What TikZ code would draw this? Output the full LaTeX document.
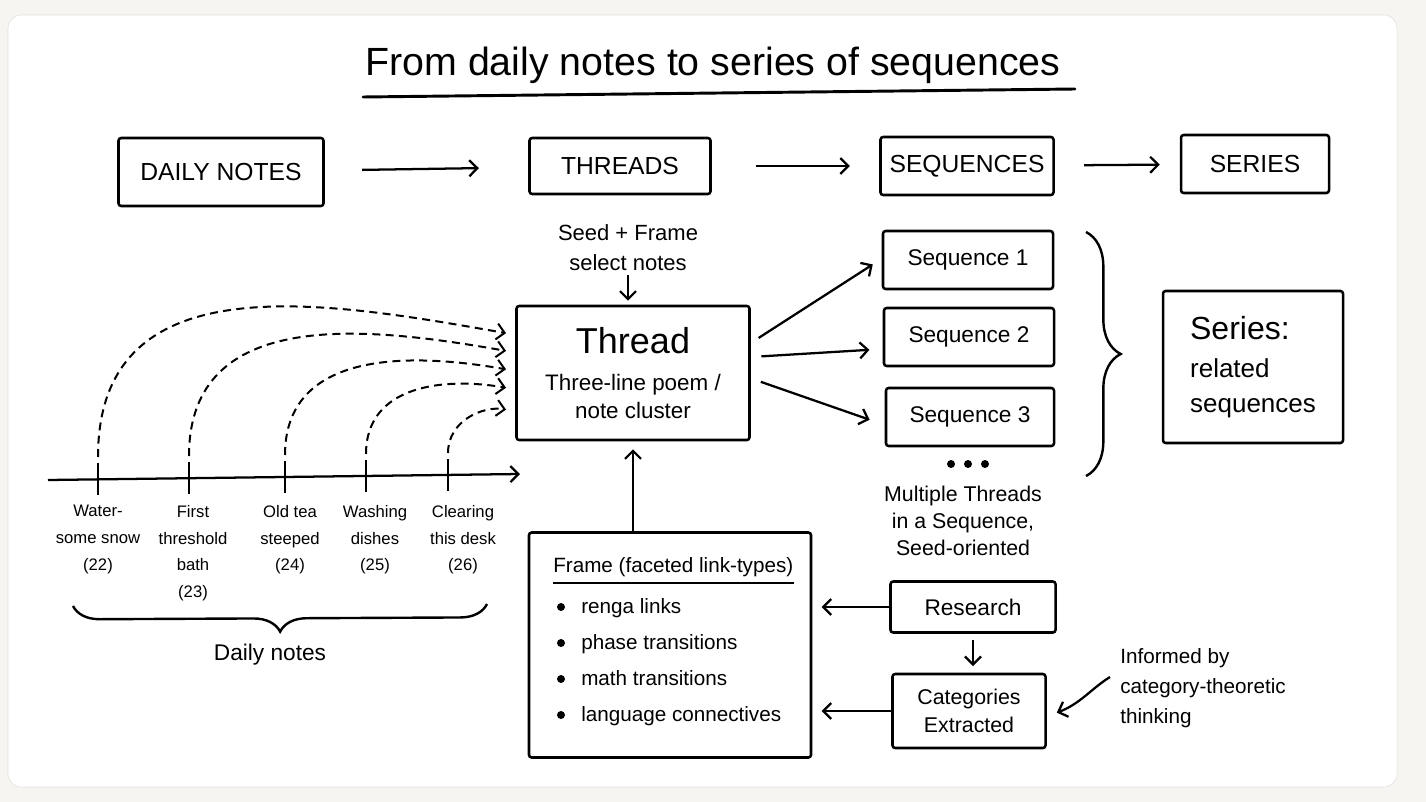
\documentclass[tikz,border=0pt]{standalone}
\usepackage{fontspec}
\setmainfont{Liberation Sans}
\usetikzlibrary{arrows.meta,decorations.pathreplacing,calc}
\definecolor{pagegrey}{RGB}{246,245,242}
\definecolor{edgegrey}{RGB}{226,224,220}
\tikzset{
	box/.style={draw, line width=1.9pt, rounded corners=2pt, inner sep=0pt, align=center},
	wh/.style 2 args={minimum width=#1*0.75pt, minimum height=#2*0.75pt},
	arr/.style={line width=1.7pt, -{Straight Barb[length=6pt,width=12pt]}},
	dasharr/.style={arr, line width=1.5pt, dash pattern=on 6pt off 4pt, shorten >=7pt},
	bracestyle/.style={decorate, line width=1.8pt},
	lbl/.style={inner sep=0pt, align=center},
	titletext/.style={inner sep=0pt, font=\fontsize{29.5}{34}\selectfont},
	toplabel/.style={font=\fontsize{18.5}{22}\selectfont},
	seqlabel/.style={font=\fontsize{17}{21}\selectfont},
	bodytext/.style={font=\fontsize{16.5}{22.5}\selectfont},
	ticklabel/.style={lbl, anchor=north, font=\fontsize{12.5}{20}\selectfont},
	frametext/.style={inner sep=0pt, anchor=base west, font=\fontsize{15.5}{20}\selectfont}
}

\begin{document}
\begin{tikzpicture}[x=0.75pt,y=0.75pt,yscale=-1,xscale=1]
	\fill[pagegrey] (0,0) rectangle (1426,802);
	\draw[edgegrey, fill=white, rounded corners=10pt] (8,15) rectangle (1397,787);
	\useasboundingbox (0,0) rectangle (1426,802);

	\node[titletext, anchor=base] (title) at (713,76) {From daily notes to series of sequences};
	\draw[line width=2.2pt, line cap=round] (363,97) -- (1075,89);

	\node[box, toplabel, wh={205}{68}] (daily) at (221,172) {DAILY NOTES};
	\node[box, toplabel, wh={181}{56}] (threads) at (620,166) {THREADS};
	\node[box, toplabel, wh={173}{58}] (sequences) at (967,166) {SEQUENCES};
	\node[box, toplabel, wh={148}{58}] (series) at (1255,164) {SERIES};
	\draw[arr, shorten <=28pt, shorten >=37pt] (daily) -- (threads);
	\draw[arr, shorten <=33pt, shorten >=22pt] (threads) -- (sequences);
	\draw[arr, shorten <=22pt, shorten >=15pt] (sequences) -- (series);

	\node[lbl, bodytext] (seed) at (628,248) {Seed + Frame\\select notes};
	\node[box, wh={233}{134}, font=\fontsize{16.8}{21}\selectfont] (thread) at (633,373)
		{{\fontsize{27}{30}\selectfont Thread}\\[7pt]Three-line poem /\\note cluster};
	\draw[arr, shorten <=3pt, shorten >=3pt] (seed.south) -- (seed.south |- thread.north);

	\node[box, seqlabel, wh={170}{58}] (seq1) at (968,260) {Sequence 1};
	\node[box, seqlabel, wh={170}{58}] (seq2) at (969,337) {Sequence 2};
	\node[box, seqlabel, wh={168}{58}] (seq3) at (970,417) {Sequence 3};
	\draw[arr, shorten <=7pt, shorten >=8pt] ([yshift=-22.5pt]thread.east) -- ([yshift=-1pt]seq1.west);
	\draw[arr, shorten <=8pt, shorten >=10pt] ([yshift=-12pt]thread.east) -- ([yshift=9pt]seq2.west);
	\draw[arr, shorten <=8pt, shorten >=12pt] ([yshift=4pt]thread.east) -- ([yshift=6pt]seq3.west);
	\foreach \x in {951,968,985}
		\fill (\x,464) circle (3pt);
	\node[lbl, font=\fontsize{16}{20.5}\selectfont] (multi) at (963,521) {Multiple Threads\\in a Sequence,\\Seed-oriented};

	\draw[bracestyle, decoration={brace, amplitude=26pt}] (1086,232) -- (1086,476);
	\node[box, wh={180}{152}, align=left, font=\fontsize{19.5}{26}\selectfont] (seriesbox) at (1253,367)
		{{\fontsize{24}{28}\selectfont Series:}\\[3pt]related\\sequences};

	\coordinate (tlstart) at (48,480);
	\coordinate (tlend) at (520,474);
	\draw[arr] (tlstart) -- (tlend);
	\foreach \x/\y/\f/\lo [count=\i] in {98/479/0.22/1.15, 189/478/0.35/1.12, 285/477/0.485/1.1, 366/476/0.62/1.1, 448/475/0.78/1.05} {
		\draw[line width=1.7pt] (\x,\y-16) -- (\x,\y+16);
		\coordinate (tick\i) at (\x,\y-22);
		\coordinate (in\i) at ($(thread.north west)!\f!(thread.south west)$);
		\draw[dasharr] (tick\i) to[out=270, in=190, looseness=\lo] (in\i);
	}
	\node[ticklabel] (note1) at (98,505) {Water-\\some snow\\(22)};
	\node[ticklabel] (note2) at (193,505) {First\\threshold\\bath\\(23)};
	\node[ticklabel] (note3) at (290,505) {Old tea\\steeped\\(24)};
	\node[ticklabel] (note4) at (375,505) {Washing\\dishes\\(25)};
	\node[ticklabel] (note5) at (463,505) {Clearing\\this desk\\(26)};
	\draw[bracestyle, decoration={brace, amplitude=20pt}] (487,604) -- (73,606);
	\node[lbl, font=\fontsize{17}{21}\selectfont] (dailylbl) at (270,655) {Daily notes};

	\node[box, wh={282}{225}] (frame) at (670,645) {};
	\node[frametext] (ftitle) at (553,572) {Frame (faceted link-types)};
	\draw[line width=1.8pt] ([yshift=5pt]ftitle.south west) -- ([yshift=5pt]ftitle.south east);
	\foreach \txt [count=\i] in {renga links, phase transitions, math transitions, language connectives} {
		\fill (561,571+36*\i) circle (3pt);
		\node[frametext] (item\i) at (581,577+36*\i) {\txt};
	}
	\draw[arr, shorten >=6pt] (thread.south |- frame.north) -- (thread.south);

	\node[box, wh={165}{51}, font=\fontsize{17}{21}\selectfont] (research) at (973,607) {Research};
	\node[box, wh={153}{74}, font=\fontsize{16}{21}\selectfont] (cats) at (969,711) {Categories\\Extracted};
	\draw[arr, shorten <=5pt, shorten >=5pt] (research.south) -- (research.south |- cats.north);
	\draw[arr, shorten >=7pt] (research.west) -- (research.west -| frame.east);
	\draw[arr, shorten >=7pt] (cats.west) -- (cats.west -| frame.east);

	\node[lbl, anchor=west, align=left, font=\fontsize{15.5}{22.5}\selectfont] (informed) at (1120,688)
		{Informed by\\category-theoretic\\thinking};
	\coordinate (infstart) at (1110,677);
	\draw[arr, shorten >=8pt] (infstart) .. controls (1092,688) and (1080,704) .. ([yshift=4pt]cats.east);
\end{tikzpicture}
\end{document}
